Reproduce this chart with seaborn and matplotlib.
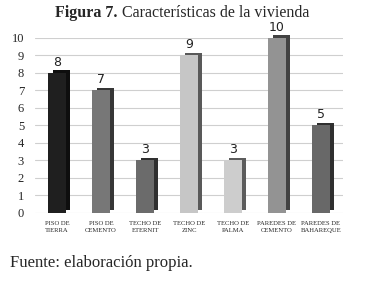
import matplotlib
matplotlib.use('Agg')
import matplotlib.pyplot as plt
import matplotlib.patheffects as pe
import seaborn as sns
import pandas as pd

# Data
categories = ['PISO DE\nTIERRA', 'PISO DE\nCEMENTO', 'TECHO DE\nETERNIT', 'TECHO DE\nZINC',
              'TECHO DE\nPALMA', 'PAREDES DE\nCEMENTO', 'PAREDES DE\nBAHAREQUE']
values = [8, 7, 3, 9, 3, 10, 5]
bar_colors = ['#1f1f1f', '#777777', '#6b6b6b', '#c6c6c6', '#cdcdcd', '#939393', '#686868']

df = pd.DataFrame({'cat': categories, 'val': values})

sns.set_style('white')
plt.rcParams['font.family'] = ['Liberation Serif', 'DejaVu Serif']

fig = plt.figure(figsize=(3.66, 2.81), dpi=100)
ax = fig.add_axes([0.096, 0.242, 0.841, 0.623])

sns.barplot(data=df, x='cat', y='val', hue='cat', palette=bar_colors,
            legend=False, width=0.4, ax=ax, saturation=1)

# fake depth with a darker offset copy of each bar
for p in ax.patches:
    p.set_edgecolor('none')
    p.set_clip_on(False)
    p.set_path_effects([pe.SimplePatchShadow(offset=(3.2, 2.0), rho=0.45, alpha=1.0),
                        pe.Normal()])

for c in ax.containers:
    ax.bar_label(c, padding=3, fontsize=9, family='DejaVu Sans', color='#222222')

ax.set_ylim(0, 10)
ax.set_yticks(range(0, 11))
ax.set_xlim(-0.5, 6.5)
ax.yaxis.grid(True, color='#cfcfcf', linewidth=0.8)
ax.set_axisbelow(True)
for s in ax.spines.values():
    s.set_visible(False)
ax.set_xlabel('')
ax.set_ylabel('')
ax.tick_params(axis='y', labelsize=9, pad=8, length=0)
ax.tick_params(axis='x', labelsize=4.8, pad=6, length=0)
for t in ax.get_xticklabels():
    t.set_linespacing(1.3)

fig.text(0.322, 0.955, 'Figura 7.', ha='right', va='center', fontsize=11.5, fontweight='bold')
fig.text(0.332, 0.955, 'Características de la vivienda', ha='left', va='center', fontsize=11.5)
fig.text(0.027, 0.065, 'Fuente: elaboración propia.', ha='left', va='center', fontsize=12)

plt.savefig('out.png', dpi=100)
